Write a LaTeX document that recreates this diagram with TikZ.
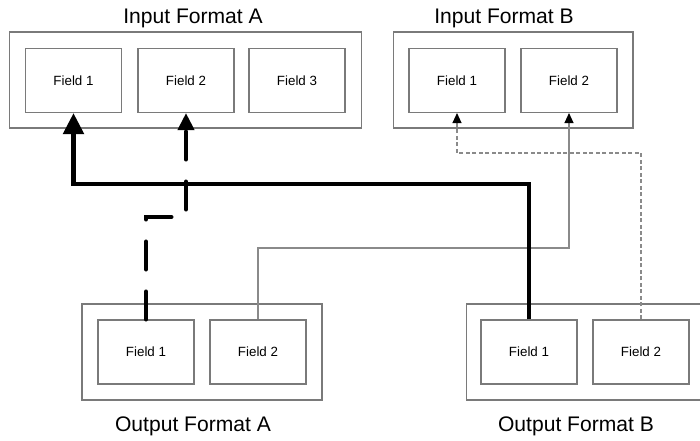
\documentclass[tikz,border=0pt]{standalone}
\usepackage{fontspec}
\setmainfont{Liberation Sans}
\usetikzlibrary{arrows.meta}
\definecolor{boxgray}{HTML}{7A7A7A}
\definecolor{wiregray}{HTML}{8A8A8A}
\tikzset{
  format/.style={draw=boxgray,line width=0.6pt,minimum width=#1,minimum height=1.92cm,inner sep=0pt},
  field/.style={draw=boxgray,fill=white,line width=0.6pt,minimum width=1.92cm,minimum height=1.28cm,
    inner sep=0pt,font=\fontsize{7.6}{9}\selectfont},
  title/.style={anchor=base,inner sep=0pt,font=\fontsize{12}{14}\selectfont}
}

\begin{document}
\begin{tikzpicture}[x=0.02cm,y=-0.02cm,
    bigwire/.style={line width=2.8pt,-{Triangle[length=0.42cm,width=0.4cm]}},
    bigdash/.style={line width=2.3pt,line cap=round,dash pattern=on 0.56cm off 0.44cm,
      -{Triangle[length=0.34cm,width=0.32cm]}},
    thinwire/.style={draw=wiregray,line width=0.6pt,-{Triangle[length=0.2cm,width=0.18cm,color=black]}},
    thindash/.style={thinwire,dash pattern=on 0.08cm off 0.05cm}]
    \useasboundingbox (0,0) rectangle (700,440);

    % input formats
    \node[format=7.06cm] (inA) at (185.5,80) {};
    \node[format=4.8cm] (inB) at (513,80) {};
    \node[title] at (193,23) {Input Format A};
    \node[title] at (504,23) {Input Format B};
    \node[field] (inA1) at (73.5,80.5) {Field 1};
    \node[field] (inA2) at (186,80.5) {Field 2};
    \node[field] (inA3) at (297,80.5) {Field 3};
    \node[field] (inB1) at (457,80.5) {Field 1};
    \node[field] (inB2) at (569,80.5) {Field 2};

    % output formats
    \node[format=4.8cm] (outA) at (202,352) {};
    \node[format=4.8cm] (outB) at (586,352) {};
    \node[title] at (193,431) {Output Format A};
    \node[title] at (576,431) {Output Format B};
    \node[field] (outA1) at (146,352) {Field 1};
    \node[field] (outA2) at (258,352) {Field 2};
    \node[field] (outB1) at (529,352) {Field 1};
    \node[field] (outB2) at (641,352) {Field 2};

    % mappings
    \coordinate (bendA1) at (529,184);
    \coordinate (bendA2) at (186,217);
    \coordinate (bendB2) at (569,248);
    \coordinate (bendB1) at (457,153);
    \draw[thinwire] (outA2.north) |- (bendB2) -- (inB2.south);
    \draw[thindash] (outB2.north) |- (bendB1) -- (inB1.south);
    \draw[bigwire] (outB1.north) -- (bendA1) -| (inA1.south);
    \draw[bigdash] (outA1.north) |- (bendA2) -- (inA2.south);
\end{tikzpicture}
\end{document}
